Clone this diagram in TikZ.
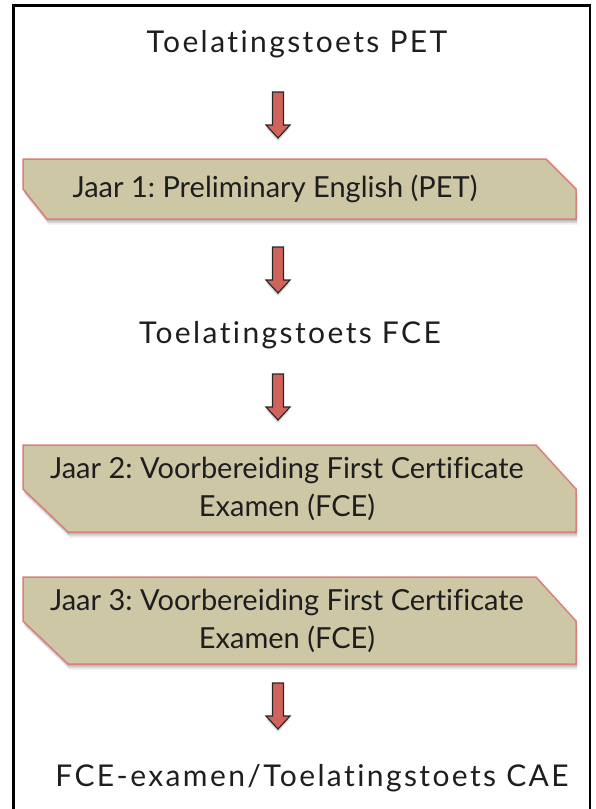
\documentclass[tikz,border=0pt]{standalone}
\usepackage{fontspec}
\setmainfont{Lato}[Ligatures={NoCommon}]
\newfontfamily\titlefont[LetterSpace=8,Ligatures={NoCommon}]{Lato}
\definecolor{boxfill}{RGB}{206,199,166}
\definecolor{boxline}{RGB}{218,128,122}
\definecolor{arrowfill}{RGB}{208,100,92}
\definecolor{txt}{RGB}{30,30,30}
% band shape: top y, bottom y, mid y, bottom-left x, top-right x
\newcommand\bandpath[5]{(23,#1) -- (#5,#1) -- (576,#3) -- (576,#2) -- (#4,#2) -- (23,#3) -- cycle}
\newcommand\bandbox[5]{%
  \foreach \dx/\dy in {0.5/2,1/3,1/4,1.5/5.5}{%
    \fill[black,opacity=0.07,shift={(\dx,\dy)}] \bandpath{#1}{#2}{#3}{#4}{#5};}
  \path[band] \bandpath{#1}{#2}{#3}{#4}{#5};}
% block arrow centred on a named coordinate
\newcommand\arrowpath{(-5.5,-23) -- (5.5,-23) -- (5.5,10) -- (12,10) -- (0,23) -- (-12,10) -- (-5.5,10) -- cycle}
\newcommand\blockarrow[1]{%
  \begin{scope}[shift={(#1)}]
    \foreach \dy in {1.5,2.5,3.5}{\fill[black,opacity=0.08,yshift=-\dy pt] \arrowpath;}
    \path[barrow] \arrowpath;
  \end{scope}}
\frenchspacing
\begin{document}
\frenchspacing
\begin{tikzpicture}[x=1pt,y=-1pt,
  band/.style={fill=boxfill,draw=boxline,line width=1.5pt,line join=miter},
  barrow/.style={fill=arrowfill,draw=black!85,line width=1.1pt,line join=miter},
  title/.style={font=\titlefont\fontsize{30}{36}\selectfont,text=txt,inner sep=0pt},
  boxtext/.style={font=\fontsize{29}{38}\selectfont\frenchspacing,text=txt,align=center,inner sep=0pt}]
\useasboundingbox (0,0) rectangle (595,809);
\draw[line width=2.5pt] (13.5,812) -- (13.5,5.5) -- (590,5.5) -- (590,812);

\bandbox{159}{219}{189}{47}{546}
\bandbox{445}{532}{489}{68}{536}
\bandbox{577}{664}{621}{68}{536}

\node[title] (t1) at (297,44) {Toelatingstoets PET};
\node[boxtext] (b1) at (275,189) {Jaar 1: Preliminary English (PET)};
\node[title] (t2) at (290,335) {Toelatingstoets FCE};
\node[boxtext] (b2) at (287,489) {Jaar 2: Voorbereiding First Certificate\\Examen (FCE)};
\node[boxtext] (b3) at (287,621) {Jaar 3: Voorbereiding First Certificate\\Examen (FCE)};
\node[title] (t3) at (312,778) {FCE-examen/Toelatingstoets CAE};

\coordinate (a1) at (278,115);
\coordinate (a2) at (278,270);
\coordinate (a3) at (278,397);
\coordinate (a4) at (278,706);
\blockarrow{a1}
\blockarrow{a2}
\blockarrow{a3}
\blockarrow{a4}
\end{tikzpicture}
\end{document}
